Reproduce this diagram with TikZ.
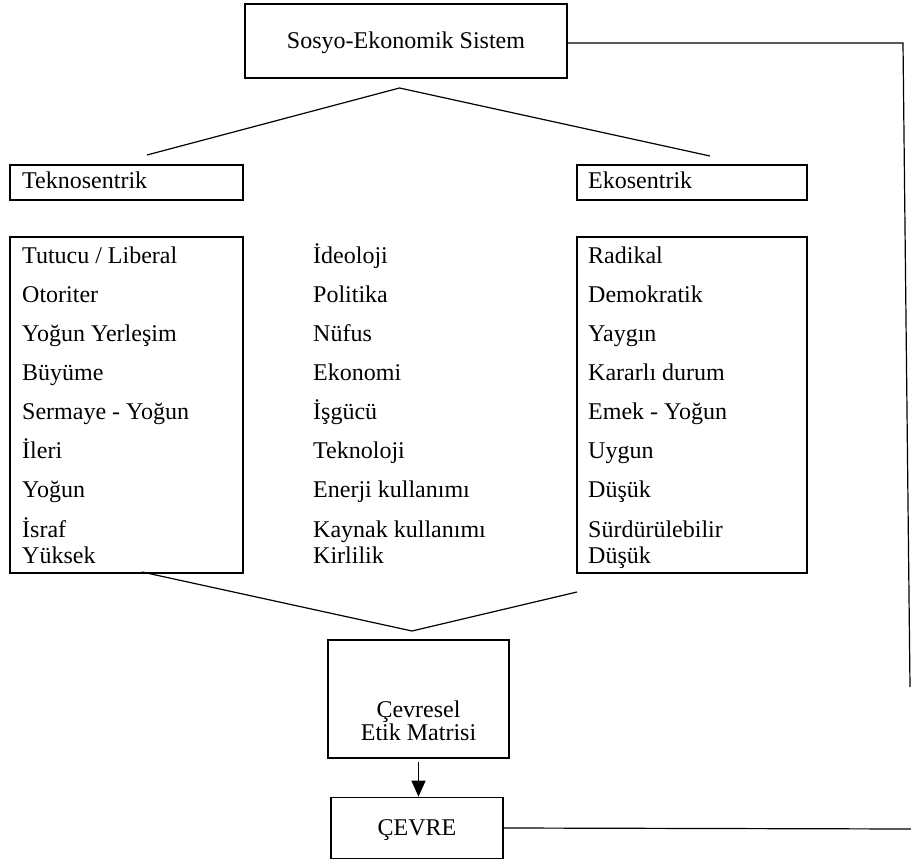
\documentclass[tikz,border=0pt]{standalone}
\usepackage{fontspec}
\setmainfont{Liberation Serif}
\usetikzlibrary{arrows.meta}
\begin{document}
\begin{tikzpicture}[x=1pt,y=-1pt,
  box/.style={draw, line width=1.6pt, inner sep=0pt},
  txt/.style={anchor=base west, inner sep=0pt, font=\fontsize{24}{28}\selectfont},
  ctxt/.style={anchor=base, inner sep=0pt, font=\fontsize{24}{28}\selectfont},
  conn/.style={line width=1.2pt}]
\useasboundingbox (0,0) rectangle (911,866);
% boxes
\node[box, minimum width=322pt, minimum height=74pt] (top) at (406,41) {};
\node[ctxt] (topt) at (406,49) {Sosyo-Ekonomik Sistem};
\node[box, minimum width=233pt, minimum height=35pt] (tekno) at (126.5,182.5) {};
\node[box, minimum width=230pt, minimum height=35pt] (eko) at (692,182.5) {};
\node[txt] (teknot) at (22,189) {Teknosentrik};
\node[txt] (ekot) at (588,189) {Ekosentrik};
\node[box, minimum width=233pt, minimum height=336pt] (llist) at (126.5,405) {};
\node[box, minimum width=230pt, minimum height=336pt] (rlist) at (692,405) {};
\node[box, minimum width=181pt, minimum height=118pt] (etik) at (418.5,699) {};
\node[ctxt] (etik1) at (418.5,717) {Çevresel};
\node[ctxt] (etik2) at (418.5,740) {Etik Matrisi};
\node[box, minimum width=172pt, minimum height=61pt] (cevre) at (417,828) {};
\node[ctxt] (cevret) at (417,835) {ÇEVRE};
% list texts
\foreach \y/\a/\b/\c [count=\i] in {
  264/{Tutucu / Liberal}/İdeoloji/Radikal,
  303/Otoriter/Politika/Demokratik,
  342/Yoğun Yerleşim/Nüfus/Yaygın,
  381/Büyüme/Ekonomi/Kararlı durum,
  420/Sermaye - Yoğun/İşgücü/Emek - Yoğun,
  459/İleri/Teknoloji/Uygun,
  498/Yoğun/Enerji kullanımı/Düşük,
  537/İsraf/Kaynak kullanımı/Sürdürülebilir,
  564/Yüksek/Kirlilik/Düşük}{
  \node[txt] (l\i) at (22,\y) {\a};
  \node[txt] (m\i) at (313,\y) {\b};
  \node[txt] (r\i) at (588,\y) {\c};
}
% connector coordinates
\coordinate (apex) at (399.5,88);
\coordinate (tl) at (147,155);
\coordinate (tr) at (710,156);
\coordinate (bl) at (142,572);
\coordinate (bapex) at (412,631);
\coordinate (br) at (577,592);
\coordinate (rc1) at (903,43);
\coordinate (rc2) at (910,687);
\coordinate (rc3) at (911,829);
\coordinate (astart) at (418.5,762);
\draw[conn] (tl) -- (apex) -- (tr);
\draw[conn] (bl) -- (bapex) -- (br);
\draw[conn] (top.east |- rc1) -- (rc1) -- (rc2);
\draw[conn] (cevre.east) -- (rc3);
\draw[conn, -{Triangle[width=14pt,length=16pt]}] (astart) -- (astart |- cevre.north);
\end{tikzpicture}
\end{document}
